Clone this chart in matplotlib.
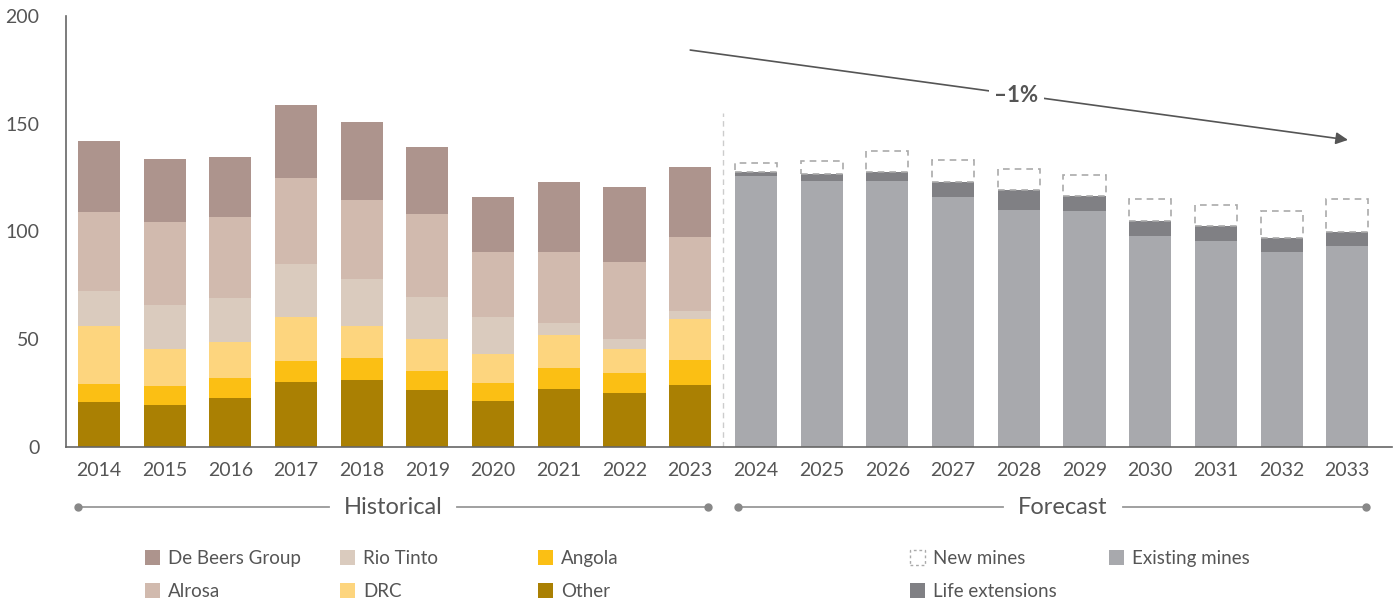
import numpy as np
import matplotlib.pyplot as plt
from matplotlib.patches import Rectangle
from matplotlib.lines import Line2D

plt.rcParams["font.family"] = ["Lato", "DejaVu Sans"]

years = [str(y) for y in range(2014, 2034)]
hist_years = years[:10]
fc_years = years[10:]

# historical production by producer (stacked bottom to top)
other = [21.0, 19.5, 22.7, 30.2, 31.1, 26.5, 21.3, 26.9, 25.1, 28.8]
angola = [8.2, 8.8, 9.3, 9.7, 10.2, 8.8, 8.4, 9.8, 9.2, 11.6]
drc = [27.0, 17.2, 16.9, 20.4, 14.8, 14.8, 13.5, 15.3, 11.2, 19.0]
rio_tinto = [16.3, 20.4, 20.2, 24.6, 21.8, 19.5, 17.1, 5.5, 4.6, 3.7]
alrosa = [36.6, 38.5, 37.6, 39.9, 36.7, 38.5, 30.2, 33.0, 35.7, 34.3]
de_beers = [33.0, 29.2, 27.9, 33.9, 36.2, 31.1, 25.5, 32.5, 34.8, 32.5]

# forecast supply
existing = [125.9, 123.6, 123.6, 116.2, 110.1, 109.7, 98.1, 95.7, 90.6, 93.4]
life_ext = [1.6, 3.2, 4.2, 6.9, 9.3, 6.8, 6.9, 7.0, 6.5, 6.5]
new_mines = [4.1, 6.1, 9.4, 10.2, 9.8, 9.9, 10.2, 9.7, 12.6, 15.3]

hist_series = [
    ("Other", other, "#AA8003"),
    ("Angola", angola, "#FBBF14"),
    ("DRC", drc, "#FDD57E"),
    ("Rio Tinto", rio_tinto, "#DACBBE"),
    ("Alrosa", alrosa, "#D1BAAE"),
    ("De Beers Group", de_beers, "#AD948D"),
]

fig = plt.figure(figsize=(14, 6.03), dpi=100)
ax = fig.add_axes([66 / 1400, 1 - 447 / 603, (1392 - 66) / 1400, (447 - 16) / 603])

width = 0.64
xh = np.arange(10)
xf = np.arange(10, 20)

bottom = np.zeros(10)
for name, vals, color in hist_series:
    ax.bar(xh, vals, width, bottom=bottom, color=color, linewidth=0, zorder=2)
    bottom += np.array(vals)

ax.bar(xf, existing, width, color="#A8A9AD", linewidth=0, zorder=2)
ax.bar(xf, life_ext, width, bottom=existing, color="#808084", linewidth=0, zorder=2)
ax.bar(xf, new_mines, width, bottom=np.array(existing) + np.array(life_ext),
       facecolor="none", edgecolor="#AAAAAA", linestyle=(0, (4, 3)), linewidth=1.2, zorder=3)

# historical / forecast divider
ax.plot([9.5, 9.5], [0, 155], color="#CCCCCC", linestyle=(0, (4, 3)), linewidth=1, zorder=1)

# trend arrow
ax.annotate("", xy=(19.01, 142.5), xytext=(9.0, 184.2),
            arrowprops=dict(arrowstyle="-|>", color="#555555", lw=1.2,
                            mutation_scale=18, shrinkA=0, shrinkB=0), zorder=4)
ax.text(13.96, 163.3, "\u20131%", ha="center", va="center", fontsize=16, fontweight="bold",
        color="#555555", bbox=dict(facecolor="white", edgecolor="none", pad=4), zorder=5)

ax.set_xlim(-0.5, 19.68)
ax.set_ylim(0, 200)
ax.set_yticks([0, 50, 100, 150, 200])
ax.set_xticks(np.arange(20))
ax.set_xticklabels(years)
ax.tick_params(length=0, labelsize=14, labelcolor="#555555")
ax.tick_params(axis="x", pad=11)
ax.tick_params(axis="y", pad=19)
for s in ["top", "right"]:
    ax.spines[s].set_visible(False)
for s in ["left", "bottom"]:
    ax.spines[s].set_color("#666666")
    ax.spines[s].set_linewidth(1.2)

# period brackets below the axis
def bracket(x0, x1, xt, label, tw):
    y = 1 - 507 / 603
    line_kw = dict(color="#999999", lw=1.3, transform=fig.transFigure)
    fig.add_artist(Line2D([x0 / 1400, (xt - tw) / 1400], [y, y], **line_kw))
    fig.add_artist(Line2D([(xt + tw) / 1400, x1 / 1400], [y, y], **line_kw))
    fig.add_artist(Line2D([x0 / 1400, x1 / 1400], [y, y], marker="o", markersize=5,
                          markevery=[0, 1], linestyle="none", color="#888888",
                          transform=fig.transFigure))
    fig.text(xt / 1400, y, label, ha="center", va="center", fontsize=17, color="#555555")

bracket(78, 708, 393, "Historical", 64)
bracket(738, 1366, 1063, "Forecast", 60)

# legend
legend_items = [
    (152, 557, "De Beers Group", "#AD948D", False),
    (152, 590, "Alrosa", "#D1BAAE", False),
    (347, 557, "Rio Tinto", "#DACBBE", False),
    (347, 590, "DRC", "#FDD57E", False),
    (545, 557, "Angola", "#FBBF14", False),
    (545, 590, "Other", "#AA8003", False),
    (917, 557, "New mines", "#AAAAAA", True),
    (917, 590, "Life extensions", "#808084", False),
    (1116, 557, "Existing mines", "#A8A9AD", False),
]
sq = 15
for px, py, label, color, dashed in legend_items:
    if dashed:
        rect = Rectangle(((px - sq / 2) / 1400, 1 - (py + sq / 2) / 603), sq / 1400, sq / 603,
                         facecolor="none", edgecolor=color, linestyle=(0, (2, 2)), lw=1,
                         transform=fig.transFigure)
    else:
        rect = Rectangle(((px - sq / 2) / 1400, 1 - (py + sq / 2) / 603), sq / 1400, sq / 603,
                         facecolor=color, edgecolor="none", transform=fig.transFigure)
    fig.add_artist(rect)
    fig.text((px + 16) / 1400, 1 - (py + 1.5) / 603, label, ha="left", va="center",
             fontsize=13.5, color="#555555")

fig.savefig("out.png", dpi=100, facecolor="white")
